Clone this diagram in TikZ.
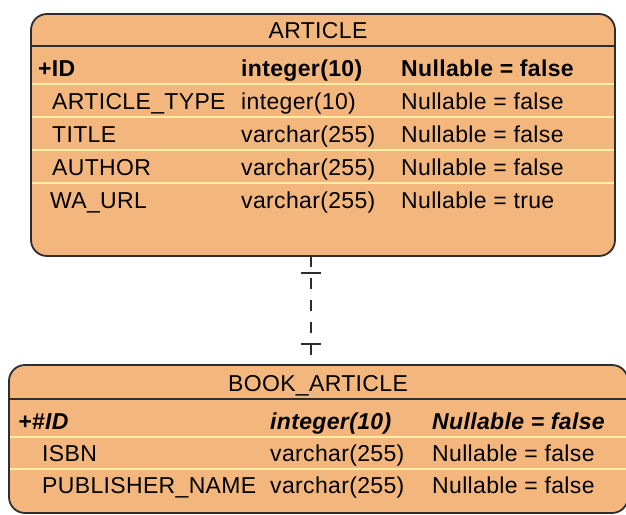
\documentclass[tikz,border=0pt]{standalone}
\usepackage{fontspec}
\setmainfont{Liberation Sans}[LetterSpace=1.5]
\definecolor{tablefill}{RGB}{243,183,125}
\definecolor{boxline}{RGB}{45,45,45}
\definecolor{sepyellow}{RGB}{255,238,165}
\begin{document}
\begin{tikzpicture}[x=1pt,y=-1pt,
  tablebox/.style={draw=boxline, line width=1.8pt, fill=tablefill,
    rounded corners=16pt, inner sep=0pt, outer sep=0pt},
  cell/.style={anchor=base west, inner sep=0pt, font=\fontsize{23}{27}\selectfont},
  pkcell/.style={cell, font=\fontsize{23}{27}\selectfont\bfseries},
  fkcell/.style={cell, font=\fontsize{23}{27}\selectfont\bfseries\itshape},
  tabtitle/.style={anchor=base, inner sep=0pt, font=\fontsize{23}{27}\selectfont},
  headsep/.style={draw=boxline, line width=1.6pt},
  rowsep/.style={draw=sepyellow, line width=1.6pt},
  relline/.style={draw=boxline, line width=1.8pt, dash pattern=on 11pt off 11pt},
  relbar/.style={draw=boxline, line width=1.8pt},
]
\useasboundingbox (0,0) rectangle (626,514);

% ---- ARTICLE table ----
\node[tablebox, minimum width=584pt, minimum height=242pt] (article) at (323,135) {};
\draw[headsep] (article.west |- 0,46) -- (article.east |- 0,46);
\foreach \yy in {84,117,150,183}
  \draw[rowsep] ([xshift=1pt]article.west |- 0,\yy) -- ([xshift=-1pt]article.east |- 0,\yy);
\node[tabtitle] (articletitle) at (318,38) {ARTICLE};

\node[pkcell] (a1n) at (38,76)  {+ID};
\node[pkcell] (a1t) at (241,76) {integer(10)};
\node[pkcell] (a1c) at (401,76) {Nullable = false};

\node[cell] (a2n) at (52,109)  {ARTICLE\_TYPE};
\node[cell] (a2t) at (241,109) {integer(10)};
\node[cell] (a2c) at (401,109) {Nullable = false};

\node[cell] (a3n) at (52,142)  {TITLE};
\node[cell] (a3t) at (241,142) {varchar(255)};
\node[cell] (a3c) at (401,142) {Nullable = false};

\node[cell] (a4n) at (52,175)  {AUTHOR};
\node[cell] (a4t) at (241,175) {varchar(255)};
\node[cell] (a4c) at (401,175) {Nullable = false};

\node[cell] (a5n) at (50,208)  {WA\_URL};
\node[cell] (a5t) at (241,208) {varchar(255)};
\node[cell] (a5c) at (401,208) {Nullable = true};

% ---- BOOK_ARTICLE table ----
\node[tablebox, minimum width=619pt, minimum height=148pt] (book) at (318.5,439) {};
\draw[headsep] (book.west |- 0,399) -- (book.east |- 0,399);
\foreach \yy in {437,469}
  \draw[rowsep] ([xshift=1pt]book.west |- 0,\yy) -- ([xshift=-1pt]book.east |- 0,\yy);
\node[tabtitle] (booktitle) at (318,391) {BOOK\_ARTICLE};

\node[fkcell] (b1n) at (18,429)  {+\#ID};
\node[fkcell] (b1t) at (270,429) {integer(10)};
\node[fkcell] (b1c) at (432,429) {Nullable = false};

\node[cell] (b2n) at (42,461)  {ISBN};
\node[cell] (b2t) at (270,461) {varchar(255)};
\node[cell] (b2c) at (432,461) {Nullable = false};

\node[cell] (b3n) at (42,493)  {PUBLISHER\_NAME};
\node[cell] (b3t) at (270,493) {varchar(255)};
\node[cell] (b3c) at (432,493) {Nullable = false};

% ---- one-to-one relationship ----
\coordinate (relx) at (311,0);
\draw[relline] (article.south -| relx) -- (book.north -| relx);
\coordinate (bartop) at (311,273);
\coordinate (barbot) at (311,344);
\draw[relbar] ([xshift=-10pt]bartop) -- ([xshift=10pt]bartop);
\draw[relbar] ([xshift=-10pt]barbot) -- ([xshift=10pt]barbot);
\end{tikzpicture}
\end{document}
